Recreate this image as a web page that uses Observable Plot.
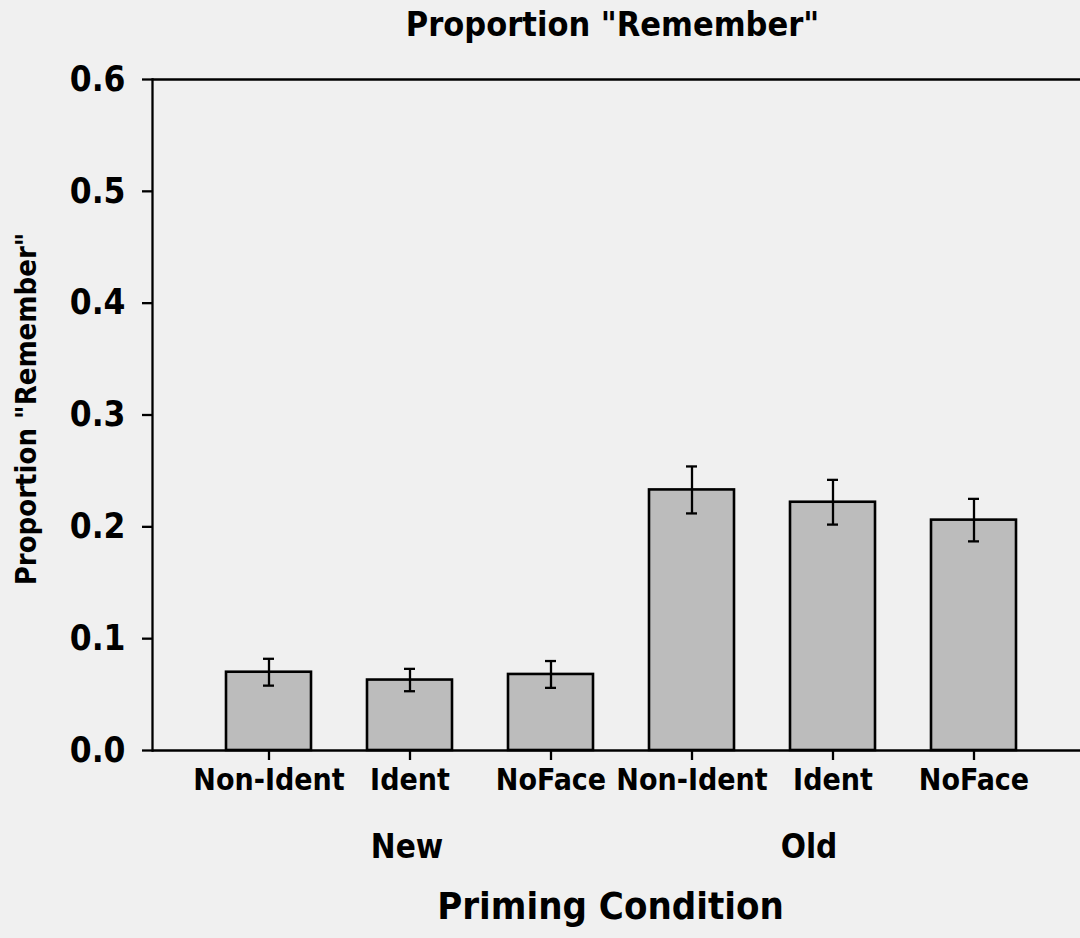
<!DOCTYPE html>
<html><head><meta charset="utf-8">
<script src="https://cdn.jsdelivr.net/npm/d3@7"></script>
<script src="https://cdn.jsdelivr.net/npm/@observablehq/plot@0.6"></script>
<style>html,body{margin:0;padding:0;background:#f0f0f0;}</style>
</head><body><div id="chart"></div>
<script>
const groups = ["New", "New", "New", "Old", "Old", "Old"];
const conditions = ["Non-Ident", "Ident", "NoFace", "Non-Ident", "Ident", "NoFace"];
const means = [0.070, 0.063, 0.068, 0.233, 0.222, 0.206];
const errors = [0.012, 0.010, 0.012, 0.021, 0.020, 0.019];
const yTicks = [0, 0.1, 0.2, 0.3, 0.4, 0.5, 0.6];
const groupLabels = ["New", "Old"];
const groupAnchors = ["New|Ident", "Old|Ident"];
const titleText = 'Proportion "Remember"';
const yLabelText = 'Proportion "Remember"';
const xLabelText = "Priming Condition";

const data = conditions.map((c, i) => ({
  key: groups[i] + "|" + c, group: groups[i], condition: c,
  mean: means[i], lo: means[i] - errors[i], hi: means[i] + errors[i]
}));
const keys = data.map(d => d.key);
const FONT = '"DejaVu Sans Condensed", "DejaVu Sans", sans-serif';
const LW = 2.3;

const chart = Plot.plot({
  width: 1080, height: 938,
  marginLeft: 152, marginRight: 0, marginTop: 79, marginBottom: 188,
  style: {fontFamily: FONT, fontWeight: "bold", background: "#f0f0f0", color: "#000"},
  x: {type: "band", domain: keys, paddingInner: 0.394, paddingOuter: 0.465, align: 0.54},
  y: {domain: [0, 0.6]},
  marks: [
    Plot.barY(data, {x: "key", y: "mean", fill: "#bcbcbc", stroke: "#000", strokeWidth: 2.6}),
    Plot.ruleX(data, {x: "key", y1: "lo", y2: "hi", stroke: "#000", strokeWidth: LW}),
    Plot.tickY(data, {x: "key", y: "lo", insetLeft: 37, insetRight: 37, stroke: "#000", strokeWidth: LW}),
    Plot.tickY(data, {x: "key", y: "hi", insetLeft: 37, insetRight: 37, stroke: "#000", strokeWidth: LW}),
    Plot.ruleY([0], {stroke: "#000", strokeWidth: LW}),
    Plot.ruleY([0.6], {stroke: "#000", strokeWidth: LW}),
    Plot.frame({anchor: "left", stroke: "#000", strokeWidth: LW}),
    Plot.axisY({ticks: yTicks, tickFormat: d3.format(".1f"), tickSize: 10, tickPadding: 17,
      fontSize: 35, label: null, stroke: "#000", strokeWidth: LW}),
    Plot.axisX({tickSize: 10, tickPadding: 8, tickFormat: k => k.split("|")[1],
      fontSize: 30, label: null, stroke: "#000", strokeWidth: LW}),
    Plot.text([titleText], {frameAnchor: "top", lineAnchor: "bottom", dy: -44, dx: -4,
      fontSize: 34, fontWeight: "bold", fill: "#000"}),
    Plot.text([yLabelText], {frameAnchor: "left", textAnchor: "middle", rotate: -90, lineAnchor: "bottom",
      dx: -117, dy: -6, fontSize: 29, fontWeight: "bold", fill: "#000"}),
    Plot.text([xLabelText], {frameAnchor: "bottom", lineAnchor: "bottom", dy: 168, dx: -6,
      fontSize: 38, fontWeight: "bold", fill: "#000"}),
    Plot.text([groupLabels[0]], {x: [groupAnchors[0]], frameAnchor: "bottom", lineAnchor: "bottom",
      dy: 107, dx: -3, fontSize: 33, fontWeight: "bold", fill: "#000"}),
    Plot.text([groupLabels[1]], {x: [groupAnchors[1]], frameAnchor: "bottom", lineAnchor: "bottom",
      dy: 107, dx: -24, fontSize: 33, fontWeight: "bold", fill: "#000"})
  ]
});
document.getElementById("chart").appendChild(chart);
</script>
</body></html>
